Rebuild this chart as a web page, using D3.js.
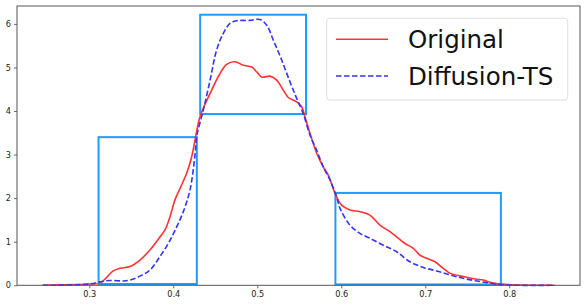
<!DOCTYPE html>
<html>
<head>
<meta charset="utf-8">
<script src="https://cdn.jsdelivr.net/npm/d3@7/dist/d3.min.js"></script>
<style>
  body { margin: 0; background: #fff; }
  svg { display: block; font-family: "DejaVu Sans", sans-serif; }
</style>
</head>
<body>
<svg width="586" height="306"></svg>
<script>
// density curves: [x, density]
const original = [
  [0.2445, 0], [0.2889, 0.02], [0.2996, 0.03], [0.3127, 0.05], [0.3285, 0.33],
  [0.3365, 0.39], [0.3484, 0.43], [0.3603, 0.58], [0.3722, 0.81], [0.3841, 1.11],
  [0.3901, 1.27], [0.3960, 1.57], [0.4020, 1.96], [0.4079, 2.22], [0.4159, 2.57],
  [0.4219, 2.95], [0.4258, 3.33], [0.4318, 3.87], [0.4437, 4.40], [0.4556, 4.86],
  [0.4635, 5.07], [0.4734, 5.13], [0.4833, 5.05], [0.4933, 5.01], [0.4992, 4.90],
  [0.5052, 4.78], [0.5151, 4.80], [0.5231, 4.71], [0.5309, 4.48], [0.5369, 4.31],
  [0.5469, 4.21], [0.5528, 4.10], [0.5567, 3.87], [0.5627, 3.49], [0.5707, 3.03],
  [0.5785, 2.72], [0.5845, 2.53], [0.5925, 2.11], [0.6004, 1.84], [0.6103, 1.73],
  [0.6222, 1.69], [0.6341, 1.61], [0.6460, 1.38], [0.6579, 1.23], [0.6659, 1.11],
  [0.6758, 0.96], [0.6857, 0.85], [0.6937, 0.69], [0.7016, 0.62], [0.7115, 0.54],
  [0.7214, 0.39], [0.7294, 0.28], [0.7452, 0.20], [0.7612, 0.14], [0.7690, 0.12],
  [0.7809, 0.05], [0.7969, 0.02], [0.854, 0]
];
const diffusion = [
  [0.2445, 0], [0.3008, 0.03], [0.3127, 0.08], [0.3246, 0.11], [0.3404, 0.10],
  [0.3484, 0.12], [0.3603, 0.21], [0.3722, 0.35], [0.3841, 0.66], [0.3940, 0.96],
  [0.4040, 1.34], [0.4119, 1.69], [0.4199, 2.19], [0.4258, 2.99], [0.4278, 3.41],
  [0.4357, 4.02], [0.4437, 4.70], [0.4516, 5.40], [0.4595, 5.78], [0.4675, 6.01],
  [0.4754, 6.07], [0.4913, 6.08], [0.5032, 6.10], [0.5112, 5.97], [0.5190, 5.63],
  [0.5290, 5.17], [0.5389, 4.67], [0.5469, 4.29], [0.5547, 3.94], [0.5627, 3.45],
  [0.5707, 3.10], [0.5785, 2.72], [0.5865, 2.42], [0.5945, 2.03], [0.5984, 1.77],
  [0.6103, 1.38], [0.6222, 1.19], [0.6341, 1.08], [0.6500, 0.92], [0.6659, 0.77],
  [0.6817, 0.54], [0.6976, 0.41], [0.7135, 0.33], [0.7294, 0.24], [0.7452, 0.16],
  [0.7612, 0.10], [0.7770, 0.05], [0.7929, 0.01], [0.854, 0]
];
// highlighted boxes: x0, x1, y0, y1
const boxes = [
  [0.311, 0.428, 0.03, 3.40],
  [0.432, 0.558, 3.93, 6.21],
  [0.593, 0.790, 0.02, 2.12]
];
const xTicks = [0.3, 0.4, 0.5, 0.6, 0.7, 0.8];
const yTicks = [0, 1, 2, 3, 4, 5, 6];
const seriesNames = ['Original', 'Diffusion-TS'];

const svg = d3.select('svg');
const padLeft = 17, padRight = 580, padTop = 6, padBottom = 285.3;

const x = d3.scaleLinear().domain([0.2139, 0.8842]).range([padLeft, padRight]);
const y = d3.scaleLinear().domain([0, 6.41]).range([padBottom, padTop]);

const line = d3.line()
  .x(function(d) { return x(d[0]); })
  .y(function(d) { return y(d[1]); })
  .curve(d3.curveCatmullRom.alpha(0.5));

// boxes
svg.selectAll('rect.box')
  .data(boxes)
  .enter()
  .append('rect')
    .attr('class', 'box')
    .attr('x', function(d) { return x(d[0]); })
    .attr('y', function(d) { return y(d[3]); })
    .attr('width', function(d) { return x(d[1]) - x(d[0]); })
    .attr('height', function(d) { return y(d[2]) - y(d[3]); })
    .attr('fill', 'none')
    .attr('stroke', '#1e9cff')
    .attr('stroke-width', 2);

svg.append('path')
  .datum(original)
  .attr('d', line)
  .attr('fill', 'none')
  .attr('stroke', '#ff3333')
  .attr('stroke-width', 1.6);

svg.append('path')
  .datum(diffusion)
  .attr('d', line)
  .attr('fill', 'none')
  .attr('stroke', '#3333ff')
  .attr('stroke-width', 1.6)
  .attr('stroke-dasharray', '5.5,2.5');

// axes
const xAxis = svg.append('g')
  .attr('transform', 'translate(0,' + padBottom + ')')
  .call(d3.axisBottom(x).tickValues(xTicks).tickSize(3).tickPadding(3).tickFormat(d3.format('.1f')));
const yAxis = svg.append('g')
  .attr('transform', 'translate(' + padLeft + ',0)')
  .call(d3.axisLeft(y).tickValues(yTicks).tickSize(3).tickPadding(3).tickFormat(d3.format('d')));

[xAxis, yAxis].forEach(function(g) {
  g.select('.domain').remove();
  g.selectAll('text').attr('font-size', 8.2).attr('fill', '#222').attr('font-family', '"DejaVu Sans", sans-serif');
  g.selectAll('line').attr('stroke', '#444').attr('stroke-width', 0.8);
});

svg.append('rect')
  .attr('x', padLeft)
  .attr('y', padTop)
  .attr('width', padRight - padLeft)
  .attr('height', padBottom - padTop)
  .attr('fill', 'none')
  .attr('stroke', '#555')
  .attr('stroke-width', 1);

// legend
const legend = svg.append('g');
legend.append('rect')
  .attr('x', 326.7).attr('y', 18.3)
  .attr('width', 241).attr('height', 81.7)
  .attr('rx', 3)
  .attr('fill', 'rgba(255,255,255,0.8)')
  .attr('stroke', '#d6d6d6')
  .attr('stroke-width', 0.8);

const entry = legend.selectAll('g.entry')
  .data(seriesNames)
  .enter()
  .append('g')
    .attr('transform', function(d, i) { return 'translate(0,' + (39.3 + i * 36.7) + ')'; });

entry.append('line')
  .attr('x1', 336).attr('x2', 388)
  .attr('stroke', function(d, i) { return i == 0 ? '#ff3333' : '#3333ff'; })
  .attr('stroke-width', 1.6)
  .attr('stroke-dasharray', function(d, i) { return i == 0 ? null : '5.5,2.5'; });

entry.append('text')
  .attr('x', 408)
  .attr('y', 9)
  .attr('font-size', 24.5)
  .attr('fill', '#111')
  .text(function(d) { return d; });
</script>
</body>
</html>
